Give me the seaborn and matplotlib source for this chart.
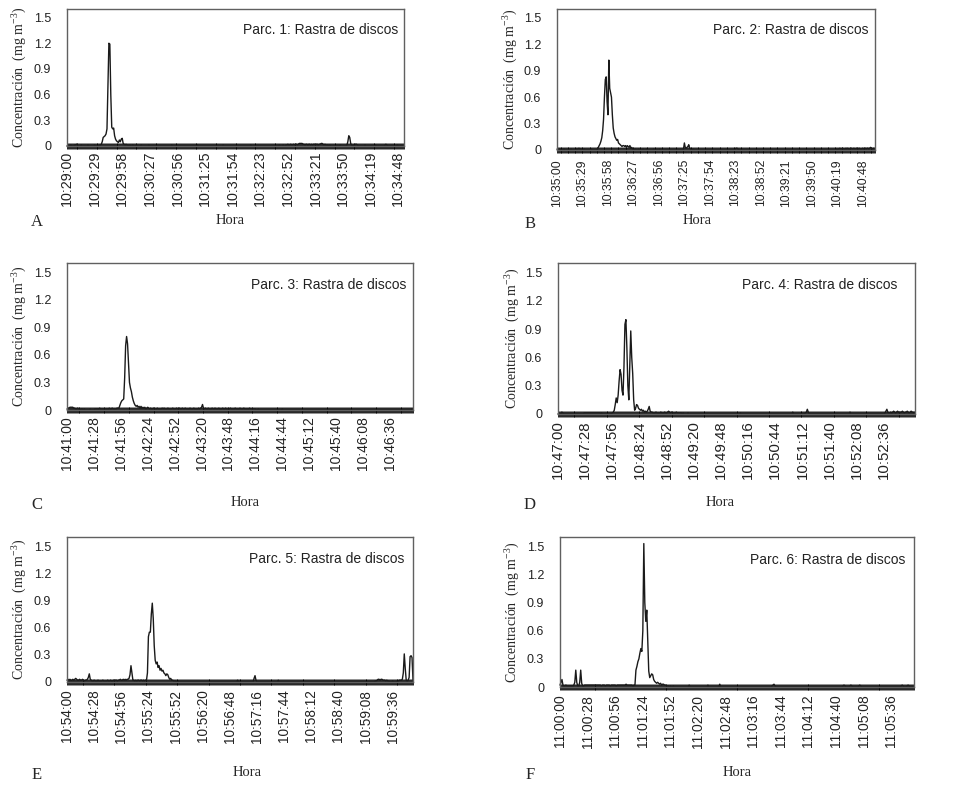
import numpy as np
import seaborn as sns
import matplotlib.pyplot as plt

# concentration readings, one per second (mg m-3)
parc1_start = "10:29:00"
parc1_vals = [
    0, 0.01, 0, 0, 0.01, 0, 0, 0, 0.01, 0.01, 0.02, 0.01, 0, 0, 0, 0.01, 0, 0, 0, 0,
    0, 0, 0.01, 0, 0, 0, 0, 0, 0, 0.01, 0, 0, 0, 0, 0.01, 0.01, 0.02, 0.05, 0.1, 0.11,
    0.12, 0.14, 0.2, 0.7, 1.2, 1.19, 0.6, 0.22, 0.2, 0.21, 0.12, 0.08, 0.06, 0.05, 0.04, 0.07, 0.05, 0.08, 0.09, 0.03,
    0.02, 0.01, 0.02, 0.01, 0.01, 0, 0.01, 0, 0, 0.01, 0, 0, 0, 0.01, 0, 0, 0, 0, 0.01, 0,
    0, 0, 0, 0, 0, 0, 0.01, 0, 0, 0, 0, 0, 0, 0, 0, 0, 0, 0, 0, 0,
    0, 0, 0, 0, 0, 0, 0, 0, 0, 0, 0.01, 0, 0, 0, 0, 0, 0, 0, 0, 0,
    0, 0, 0, 0, 0, 0, 0, 0, 0, 0, 0, 0, 0, 0, 0, 0, 0, 0.01, 0, 0,
    0, 0, 0, 0, 0, 0, 0, 0, 0, 0, 0, 0, 0, 0, 0, 0, 0, 0, 0, 0,
    0, 0, 0, 0, 0.01, 0, 0, 0, 0, 0, 0, 0, 0, 0, 0, 0, 0, 0, 0, 0,
    0, 0, 0, 0, 0, 0, 0, 0, 0, 0, 0, 0, 0, 0.01, 0, 0, 0, 0, 0, 0,
    0, 0, 0, 0, 0, 0, 0, 0, 0, 0, 0, 0, 0, 0, 0, 0, 0, 0, 0, 0,
    0, 0, 0, 0.01, 0, 0, 0, 0.01, 0, 0, 0.01, 0.01, 0.02, 0.01, 0.01, 0.02, 0.01, 0.01, 0.02, 0.01,
    0.02, 0.02, 0.01, 0.02, 0.03, 0.03, 0.03, 0.03, 0.02, 0.02, 0.01, 0.02, 0.02, 0.01, 0.02, 0.02, 0.01, 0.02, 0.01, 0.02,
    0.02, 0.01, 0.02, 0.02, 0.01, 0.02, 0.02, 0.03, 0.03, 0.02, 0.01, 0.02, 0.01, 0.01, 0.01, 0, 0.01, 0, 0, 0,
    0, 0, 0, 0, 0, 0, 0, 0.01, 0, 0, 0, 0, 0, 0, 0.01, 0.05, 0.12, 0.1, 0.03, 0.01,
    0, 0.01, 0, 0.02, 0.02, 0.01, 0, 0, 0, 0, 0, 0, 0, 0.01, 0, 0, 0, 0, 0, 0,
    0, 0, 0, 0, 0.01, 0, 0, 0, 0, 0, 0, 0, 0, 0, 0.01, 0.02, 0.01, 0, 0, 0,
    0, 0, 0, 0, 0, 0, 0, 0.01, 0, 0, 0, 0, 0, 0, 0,
]
parc1_ticks = ["10:29:00", "10:29:29", "10:29:58", "10:30:27", "10:30:56", "10:31:25", "10:31:54",
               "10:32:23", "10:32:52", "10:33:21", "10:33:50", "10:34:19", "10:34:48"]

parc2_start = "10:35:00"
parc2_vals = [
    0.01, 0, 0, 0.01, 0, 0, 0, 0, 0.01, 0, 0, 0, 0, 0, 0, 0, 0.01, 0, 0, 0,
    0, 0, 0.01, 0.01, 0.01, 0.02, 0.01, 0.01, 0, 0, 0, 0.01, 0, 0, 0, 0, 0, 0, 0, 0.01,
    0, 0, 0, 0, 0, 0, 0.01, 0.03, 0.05, 0.07, 0.1, 0.14, 0.22, 0.35, 0.6, 0.8, 0.83, 0.55, 0.4, 1.02,
    0.7, 0.65, 0.6, 0.4, 0.25, 0.19, 0.15, 0.13, 0.11, 0.12, 0.08, 0.07, 0.06, 0.05, 0.04, 0.05, 0.05, 0.04, 0.05, 0.03,
    0.05, 0.04, 0.03, 0.05, 0.02, 0.03, 0.01, 0.01, 0, 0.01, 0, 0, 0, 0.01, 0, 0, 0, 0, 0.01, 0,
    0, 0, 0.01, 0, 0, 0, 0, 0, 0, 0, 0.01, 0, 0, 0, 0, 0, 0, 0.01, 0, 0,
    0, 0, 0, 0, 0, 0, 0, 0, 0, 0, 0, 0, 0, 0, 0, 0, 0, 0, 0, 0,
    0, 0, 0, 0, 0.01, 0.08, 0.03, 0.02, 0.03, 0.04, 0.06, 0.02, 0.01, 0, 0, 0.01, 0, 0, 0, 0,
    0, 0, 0, 0, 0, 0, 0, 0, 0, 0, 0, 0, 0, 0, 0, 0, 0, 0, 0, 0,
    0, 0, 0, 0, 0, 0, 0, 0, 0, 0, 0, 0, 0, 0, 0, 0, 0, 0, 0, 0,
    0, 0, 0, 0.01, 0.02, 0.02, 0.01, 0, 0, 0, 0, 0, 0, 0, 0, 0, 0, 0, 0, 0,
    0, 0, 0, 0, 0, 0, 0, 0, 0, 0, 0, 0, 0, 0, 0, 0, 0, 0, 0, 0,
    0, 0, 0, 0, 0, 0, 0, 0, 0, 0, 0, 0, 0, 0, 0, 0, 0, 0, 0, 0,
    0, 0, 0, 0, 0, 0, 0, 0, 0, 0, 0, 0, 0, 0, 0, 0, 0, 0, 0, 0,
    0, 0, 0, 0, 0, 0, 0, 0, 0, 0, 0, 0, 0, 0, 0, 0, 0, 0, 0, 0,
    0, 0, 0, 0, 0, 0, 0, 0, 0, 0, 0, 0, 0, 0, 0, 0, 0, 0, 0.01, 0,
    0.01, 0.01, 0.02, 0.01, 0.01, 0.02, 0.01, 0.01, 0.01, 0.02, 0.01, 0.02, 0.01, 0.01, 0.01, 0.02, 0.01, 0.01, 0.02, 0.01,
    0.01, 0.02, 0.01, 0.01, 0.02, 0.01, 0.01, 0.01, 0.02, 0.01, 0.01, 0.02, 0.01, 0.02, 0.02, 0.01, 0.02, 0.03, 0.02, 0.01,
    0.02, 0.01, 0.02,
]
parc2_ticks = ["10:35:00", "10:35:29", "10:35:58", "10:36:27", "10:36:56", "10:37:25", "10:37:54",
               "10:38:23", "10:38:52", "10:39:21", "10:39:50", "10:40:19", "10:40:48"]

parc3_start = "10:41:00"
parc3_vals = [
    0.01, 0.02, 0.02, 0.03, 0.03, 0.03, 0.03, 0.02, 0.02, 0.01, 0.01, 0.02, 0.01, 0.01, 0, 0.01, 0.01, 0, 0.01, 0,
    0, 0, 0, 0, 0.01, 0, 0, 0, 0, 0.01, 0.01, 0.01, 0.01, 0.01, 0.02, 0.01, 0.01, 0.01, 0.01, 0.01,
    0.01, 0.01, 0.01, 0.01, 0.02, 0.01, 0.01, 0.02, 0.01, 0.01, 0.01, 0.01, 0.02, 0.02, 0.02, 0.05, 0.08, 0.1, 0.11, 0.12,
    0.35, 0.7, 0.8, 0.72, 0.5, 0.3, 0.24, 0.2, 0.14, 0.1, 0.07, 0.05, 0.04, 0.05, 0.03, 0.04, 0.02, 0.04, 0.02, 0.03,
    0.02, 0.03, 0.01, 0.02, 0.03, 0.02, 0.01, 0.02, 0.01, 0.01, 0.02, 0.01, 0.01, 0.01, 0.02, 0.01, 0.01, 0.01, 0.01, 0.02,
    0.01, 0.02, 0.01, 0.01, 0.01, 0.02, 0.01, 0.01, 0.01, 0.01, 0.02, 0.01, 0.01, 0.01, 0.02, 0.01, 0.01, 0.02, 0.01, 0.01,
    0.02, 0.01, 0.01, 0.02, 0.01, 0.01, 0.01, 0.01, 0.02, 0.01, 0.01, 0.01, 0.02, 0.01, 0.01, 0.01, 0.01, 0.02, 0.01, 0.02,
    0.03, 0.06, 0.02, 0.01, 0.02, 0.01, 0.01, 0.02, 0.01, 0.01, 0.01, 0.02, 0.01, 0.01, 0.02, 0.01, 0.01, 0.01, 0.02, 0.01,
    0.01, 0.01, 0.02, 0.01, 0.01, 0.02, 0.01, 0.01, 0.01, 0.01, 0.02, 0.01, 0.01, 0.01, 0.01, 0.02, 0.01, 0.01, 0.01, 0.01,
    0.02, 0.01, 0.01, 0.01, 0.02, 0.01, 0.01, 0.01, 0.01, 0.01, 0.02, 0.01, 0.01, 0.01, 0.01, 0.01, 0.01, 0, 0, 0.01,
    0, 0, 0, 0, 0, 0, 0, 0, 0, 0, 0, 0, 0, 0, 0, 0, 0, 0, 0, 0,
    0, 0, 0, 0, 0.01, 0, 0, 0, 0, 0, 0, 0, 0, 0, 0, 0, 0, 0, 0, 0,
    0, 0, 0, 0, 0, 0, 0, 0, 0, 0, 0, 0, 0, 0, 0, 0, 0, 0, 0, 0,
    0, 0, 0, 0, 0, 0, 0, 0, 0, 0, 0, 0, 0, 0, 0, 0, 0, 0, 0, 0,
    0, 0, 0, 0, 0, 0, 0, 0, 0, 0, 0, 0, 0, 0, 0, 0, 0, 0, 0, 0,
    0, 0, 0, 0, 0, 0, 0, 0, 0, 0, 0, 0, 0, 0, 0, 0, 0, 0, 0, 0,
    0, 0, 0, 0, 0, 0, 0, 0, 0, 0, 0, 0, 0, 0, 0, 0, 0, 0, 0, 0,
    0, 0, 0, 0, 0, 0, 0, 0, 0, 0, 0, 0, 0, 0, 0, 0, 0, 0, 0, 0.01,
    0,
]
parc3_ticks = ["10:41:00", "10:41:28", "10:41:56", "10:42:24", "10:42:52", "10:43:20", "10:43:48",
               "10:44:16", "10:44:44", "10:45:12", "10:45:40", "10:46:08", "10:46:36"]

parc4_start = "10:47:00"
parc4_vals = [
    0, 0.01, 0, 0, 0.02, 0.01, 0, 0, 0, 0, 0, 0, 0, 0, 0, 0, 0, 0, 0, 0,
    0, 0, 0, 0, 0, 0, 0, 0.01, 0.01, 0.01, 0.01, 0.01, 0.01, 0.01, 0.01, 0.01, 0.01, 0.01, 0.01, 0.01,
    0.01, 0.01, 0.01, 0.01, 0, 0.01, 0, 0, 0, 0, 0, 0, 0, 0, 0, 0, 0.01, 0.02, 0.04, 0.1,
    0.17, 0.12, 0.2, 0.35, 0.47, 0.42, 0.25, 0.2, 0.5, 0.95, 1.0, 0.7, 0.3, 0.15, 0.5, 0.88, 0.6, 0.43, 0.15, 0.04,
    0.06, 0.1, 0.09, 0.06, 0.05, 0.04, 0.05, 0.03, 0.04, 0.02, 0.03, 0.02, 0.03, 0.05, 0.08, 0.03, 0.02, 0.02, 0.01, 0.01,
    0.01, 0.02, 0.01, 0.01, 0.01, 0.01, 0.02, 0.01, 0.01, 0.01, 0.02, 0.01, 0.01, 0.02, 0.03, 0.02, 0.01, 0.02, 0.01, 0.01,
    0.01, 0.01, 0.02, 0.01, 0.01, 0.01, 0.01, 0.01, 0, 0.01, 0, 0, 0, 0, 0.01, 0, 0, 0, 0, 0,
    0, 0, 0, 0, 0, 0, 0, 0, 0, 0, 0, 0, 0, 0, 0, 0, 0, 0, 0, 0,
    0, 0, 0, 0, 0, 0, 0, 0, 0, 0, 0, 0, 0, 0, 0, 0, 0, 0, 0, 0,
    0, 0, 0, 0, 0, 0, 0, 0, 0.01, 0, 0, 0, 0, 0, 0, 0, 0, 0, 0, 0,
    0, 0, 0, 0, 0, 0, 0, 0, 0, 0, 0, 0, 0, 0, 0, 0, 0, 0, 0, 0,
    0, 0, 0, 0, 0, 0, 0, 0, 0, 0, 0, 0, 0, 0, 0, 0, 0, 0, 0, 0,
    0, 0, 0.02, 0, 0, 0, 0, 0, 0, 0, 0, 0, 0, 0, 0, 0.01, 0.02, 0.05, 0.02, 0,
    0, 0, 0, 0, 0, 0, 0, 0, 0, 0, 0, 0, 0, 0, 0, 0, 0, 0, 0, 0,
    0, 0, 0, 0, 0, 0, 0, 0, 0, 0, 0, 0, 0, 0, 0, 0, 0, 0, 0, 0,
    0, 0.02, 0, 0, 0, 0, 0, 0, 0, 0, 0, 0, 0, 0, 0, 0, 0, 0, 0, 0,
    0, 0, 0, 0, 0, 0, 0, 0, 0, 0, 0, 0, 0, 0, 0, 0, 0, 0.01, 0.03, 0.05,
    0.02, 0.01, 0.01, 0.02, 0.01, 0.02, 0.03, 0.02, 0.01, 0.02, 0.03, 0.02, 0.01, 0.02, 0.02, 0.03, 0.02, 0.01, 0.02, 0.02,
    0.03, 0.02, 0.01, 0.02, 0.03, 0.02, 0.02, 0.01, 0.02,
]
parc4_ticks = ["10:47:00", "10:47:28", "10:47:56", "10:48:24", "10:48:52", "10:49:20", "10:49:48",
               "10:50:16", "10:50:44", "10:51:12", "10:51:40", "10:52:08", "10:52:36"]

parc5_start = "10:54:00"
parc5_vals = [
    0.02, 0.03, 0.02, 0.03, 0.02, 0.02, 0.03, 0.02, 0.03, 0.04, 0.03, 0.02, 0.02, 0.03, 0.02, 0.02, 0.03, 0.02, 0.01, 0.02,
    0.02, 0.03, 0.05, 0.09, 0.03, 0.02, 0.01, 0.01, 0.02, 0.01, 0.01, 0.01, 0.02, 0.01, 0.01, 0.01, 0.01, 0.02, 0.01, 0.01,
    0.01, 0.01, 0.02, 0.01, 0.01, 0.02, 0.01, 0.01, 0.02, 0.01, 0.02, 0.02, 0.01, 0.02, 0.02, 0.03, 0.02, 0.02, 0.03, 0.02,
    0.03, 0.02, 0.03, 0.03, 0.04, 0.08, 0.18, 0.1, 0.02, 0.02, 0.01, 0.02, 0.01, 0.02, 0.02, 0.01, 0.02, 0.02, 0.01, 0.02,
    0.01, 0.02, 0.02, 0.1, 0.5, 0.55, 0.55, 0.75, 0.87, 0.7, 0.4, 0.24, 0.2, 0.22, 0.16, 0.18, 0.13, 0.15, 0.12, 0.13,
    0.1, 0.09, 0.07, 0.09, 0.08, 0.05, 0.03, 0.04, 0.02, 0.02, 0.01, 0.01, 0.01, 0, 0, 0.01, 0, 0, 0, 0,
    0, 0, 0, 0, 0, 0, 0, 0, 0, 0, 0, 0, 0, 0, 0, 0, 0, 0, 0, 0,
    0, 0, 0, 0, 0, 0, 0, 0, 0, 0, 0, 0, 0, 0, 0, 0, 0, 0, 0, 0,
    0, 0, 0, 0, 0, 0, 0, 0, 0, 0, 0, 0, 0, 0, 0, 0, 0.02, 0, 0, 0,
    0, 0, 0, 0, 0, 0, 0, 0, 0, 0, 0, 0, 0, 0.04, 0.07, 0.02, 0, 0, 0, 0,
    0, 0, 0, 0, 0, 0, 0, 0, 0, 0, 0, 0, 0, 0, 0, 0, 0, 0, 0.02, 0,
    0, 0, 0, 0, 0, 0, 0, 0, 0, 0, 0, 0, 0, 0, 0, 0, 0, 0, 0, 0,
    0, 0, 0, 0, 0, 0, 0, 0, 0, 0, 0, 0, 0, 0, 0, 0, 0, 0, 0, 0,
    0, 0, 0, 0, 0, 0, 0, 0, 0, 0, 0, 0, 0, 0, 0, 0, 0, 0, 0, 0,
    0, 0, 0, 0, 0, 0, 0, 0, 0, 0, 0, 0, 0, 0, 0, 0, 0, 0, 0, 0,
    0, 0, 0, 0, 0, 0, 0, 0, 0, 0, 0, 0, 0, 0, 0, 0, 0, 0, 0.01, 0.01,
    0.02, 0.03, 0.03, 0.02, 0.03, 0.03, 0.02, 0.02, 0.02, 0.01, 0.02, 0.01, 0.01, 0, 0, 0, 0.01, 0, 0, 0,
    0, 0.01, 0.01, 0.02, 0.02, 0.02, 0.03, 0.1, 0.31, 0.15, 0.02, 0.01, 0.02, 0.05, 0.28, 0.29, 0.27, 0.02,
]
parc5_ticks = ["10:54:00", "10:54:28", "10:54:56", "10:55:24", "10:55:52", "10:56:20", "10:56:48",
               "10:57:16", "10:57:44", "10:58:12", "10:58:40", "10:59:08", "10:59:36"]

parc6_start = "11:00:00"
parc6_vals = [
    0.02, 0.05, 0.08, 0.02, 0.01, 0.01, 0.02, 0.01, 0.01, 0.01, 0.01, 0.01, 0.01, 0.01, 0.02, 0.05, 0.18, 0.05, 0.01, 0.01,
    0.05, 0.18, 0.04, 0.01, 0.01, 0.02, 0.02, 0.02, 0.02, 0.02, 0.02, 0.02, 0.02, 0.02, 0.02, 0.02, 0.02, 0.02, 0.02, 0.02,
    0.02, 0.02, 0.01, 0.02, 0.02, 0.02, 0.01, 0.02, 0.02, 0.02, 0.02, 0.01, 0.02, 0.02, 0.02, 0.02, 0.02, 0.01, 0.02, 0.02,
    0.02, 0.02, 0.02, 0.02, 0.02, 0.02, 0.02, 0.03, 0.02, 0.02, 0.02, 0.02, 0.02, 0.02, 0.01, 0.02, 0.02, 0.18, 0.22, 0.27,
    0.3, 0.36, 0.41, 0.38, 0.6, 1.53, 0.9, 0.7, 0.82, 0.5, 0.17, 0.1, 0.12, 0.14, 0.13, 0.08, 0.06, 0.05, 0.04, 0.05,
    0.04, 0.03, 0.04, 0.02, 0.03, 0.03, 0.02, 0.02, 0.01, 0.01, 0.01, 0, 0.01, 0, 0, 0.01, 0, 0, 0, 0,
    0, 0, 0, 0, 0, 0, 0, 0, 0, 0, 0, 0.02, 0, 0, 0, 0, 0, 0, 0, 0,
    0, 0, 0, 0, 0, 0, 0, 0, 0, 0, 0.02, 0, 0, 0, 0, 0, 0, 0, 0, 0,
    0, 0, 0.03, 0, 0, 0, 0, 0, 0, 0, 0, 0, 0, 0, 0, 0, 0, 0, 0, 0,
    0, 0, 0, 0, 0, 0, 0, 0, 0, 0, 0, 0, 0, 0, 0, 0, 0, 0, 0, 0,
    0, 0, 0, 0, 0, 0, 0, 0, 0, 0, 0, 0, 0, 0, 0, 0.01, 0.02, 0.03, 0.01, 0,
    0, 0, 0, 0, 0, 0, 0, 0, 0, 0, 0, 0, 0, 0, 0, 0, 0, 0, 0, 0,
    0, 0, 0, 0, 0, 0, 0, 0, 0, 0, 0, 0, 0, 0, 0, 0, 0, 0, 0, 0,
    0, 0, 0, 0, 0, 0, 0, 0, 0, 0, 0, 0, 0, 0, 0, 0, 0, 0, 0, 0,
    0, 0, 0, 0, 0, 0, 0, 0.01, 0.02, 0.01, 0, 0, 0, 0, 0.01, 0.02, 0.01, 0, 0, 0,
    0, 0, 0, 0.01, 0.02, 0.01, 0, 0, 0, 0, 0, 0, 0, 0, 0, 0, 0, 0, 0, 0,
    0, 0, 0, 0, 0, 0, 0, 0, 0, 0, 0, 0, 0, 0, 0, 0, 0, 0, 0, 0,
    0, 0, 0, 0, 0, 0, 0.01, 0.02, 0.01, 0, 0, 0, 0.01, 0.02, 0.01, 0, 0, 0, 0, 0,
]
parc6_ticks = ["11:00:00", "11:00:28", "11:00:56", "11:01:24", "11:01:52", "11:02:20", "11:02:48",
               "11:03:16", "11:03:44", "11:04:12", "11:04:40", "11:05:08", "11:05:36"]

letters = ["A", "B", "C", "D", "E", "F"]
yticks = [0, 0.3, 0.6, 0.9, 1.2, 1.5]
ytick_labels = ["0", "0.3", "0.6", "0.9", "1.2", "1.5"]

panels = [
    (parc1_start, parc1_vals, parc1_ticks),
    (parc2_start, parc2_vals, parc2_ticks),
    (parc3_start, parc3_vals, parc3_ticks),
    (parc4_start, parc4_vals, parc4_ticks),
    (parc5_start, parc5_vals, parc5_ticks),
    (parc6_start, parc6_vals, parc6_ticks),
]

# layout in pixels: axes (left, top, right, bottom), letter xy, "Hora" xy, ylabel x, note xy (axes frac)
boxes = [(67, 9, 404, 146), (557, 9, 875, 150), (67, 263, 413, 410),
         (558, 263, 915, 414), (67, 537, 413, 682), (560, 537, 914, 687)]
letter_xy = [(37, 222), (530, 224), (37, 505), (530, 505), (37, 775), (530, 775)]
hora_xy = [(230, 220), (697, 220), (245, 503), (720, 503), (247, 773), (737, 773)]
ylab_x = [20, 511, 20, 513, 20, 513]
note_xy = [(0.982, 0.85), (0.98, 0.85), (0.98, 0.85), (0.95, 0.855), (0.974, 0.85), (0.977, 0.847)]
xlab_size = [10.3, 8.8, 10, 10.8, 9.8, 10]
xlab_pad = [1, 4, 2, 2, 3, 3]


def secs(hms):
    h, m, s = (int(p) for p in hms.split(":"))
    return h * 3600 + m * 60 + s


sns.set_style("white")
plt.rcParams["font.family"] = ["Liberation Sans", "DejaVu Sans"]
plt.rcParams["mathtext.fontset"] = "custom"
plt.rcParams["mathtext.rm"] = "Liberation Serif"
plt.rcParams["mathtext.it"] = "Liberation Serif:italic"

W, H = 957, 793
fig = plt.figure(figsize=(W / 100, H / 100), dpi=100)
serif = ["Liberation Serif", "DejaVu Serif"]

for i, (start, vals, ticks) in enumerate(panels):
    l, t, r, b = boxes[i]
    ax = fig.add_axes([l / W, 1 - b / H, (r - l) / W, (b - t) / H])
    x = np.arange(len(vals))
    sns.lineplot(x=x, y=vals, ax=ax, color="#1a1a1a", linewidth=1.0, clip_on=False)
    ax.set_xlim(0, len(vals) - 1)
    ax.set_ylim(0, 1.6)

    tick_pos = [secs(s) - secs(start) for s in ticks]
    ax.set_xticks(tick_pos)
    ax.set_xticklabels(ticks, rotation=90, fontsize=xlab_size[i], color="#222222")
    ax.set_xticks(x, minor=True)
    ax.tick_params(axis="x", which="both", bottom=True, direction="inout", length=5,
                   width=0.6, color="black", pad=xlab_pad[i])
    ax.set_yticks(yticks)
    ax.set_yticklabels(ytick_labels, fontsize=9, color="#222222")
    ax.tick_params(axis="y", left=False, pad=8)
    ax.set_xlabel("")
    ax.set_ylabel("")
    for sp in ax.spines.values():
        sp.set_color("#606060")
        sp.set_linewidth(1.0)

    ax.text(note_xy[i][0], note_xy[i][1], f"Parc. {i + 1}: Rastra de discos",
            transform=ax.transAxes, ha="right", va="center", fontsize=10, color="#222222")

    fig.text(ylab_x[i] / W, 1 - (t + b) / 2 / H, "Concentración  (mg m$^{-3}$)",
             rotation=90, ha="center", va="center", fontsize=10, family=serif)
    fig.text(hora_xy[i][0] / W, 1 - hora_xy[i][1] / H, "Hora", ha="center", va="center",
             fontsize=10.5, family=serif)
    fig.text(letter_xy[i][0] / W, 1 - letter_xy[i][1] / H, letters[i], ha="center",
             va="center", fontsize=12, family=serif)

fig.savefig("out.png", dpi=100)
